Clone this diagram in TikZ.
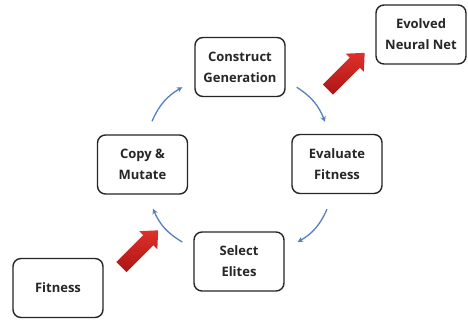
\documentclass[tikz,border=0pt]{standalone}
\usepackage{fontspec}
\setmainfont{Open Sans}
\usetikzlibrary{shapes.arrows,arrows.meta}
\definecolor{flowblue}{RGB}{88,128,190}
\definecolor{redlight}{RGB}{224,48,42}
\definecolor{reddark}{RGB}{170,22,22}
\tikzset{
  stage/.style={draw=black!85, line width=1.4pt, rounded corners=8pt, fill=white,
    minimum width=90pt, minimum height=59pt, align=center,
    font=\fontsize{13}{21}\selectfont\bfseries, text=black!85},
  flow/.style={draw=flowblue, line width=1.3pt, -{Stealth[length=5.5pt,width=5.5pt]}},
  bigarrow/.style={single arrow, minimum height=52pt, minimum width=25pt, inner sep=7pt,
    single arrow head extend=5.5pt, single arrow tip angle=85, rotate=45,
    top color=redlight, bottom color=reddark, draw=none},
}
\begin{document}
\begin{tikzpicture}[x=1pt,y=-1pt]
  \useasboundingbox[fill=white] (0,0) rectangle (468,322);

  % cycle stages
  \node[stage] (construct) at (240,67)    {Construct\\Generation};
  \node[stage] (evaluate)  at (337,164)   {Evaluate\\Fitness};
  \node[stage] (select)    at (239,261.5) {Select\\Elites};
  \node[stage] (copy)      at (142.5,164.5) {Copy \&\\Mutate};

  % input and output
  \node[stage] (fitness) at (58,288)   {Fitness};
  \node[stage] (evolved) at (421,34.5) {Evolved\\Neural Net};

  % clockwise loop
  \draw[flow] ([xshift=9.5pt,yshift=13pt]copy.north) to[bend left=18]
              ([xshift=-12pt,yshift=10pt]construct.south west);
  \draw[flow] ([xshift=11pt,yshift=10pt]construct.south east) to[bend left=18]
              ([xshift=-12pt,yshift=12pt]evaluate.north);
  \draw[flow] ([xshift=-10pt,yshift=-15pt]evaluate.south) to[bend left=18]
              ([xshift=13pt,yshift=19.5pt]select.east);
  \draw[flow] ([xshift=-11pt,yshift=19.5pt]select.west) to[bend left=18]
              ([xshift=10.5pt,yshift=-14pt]copy.south);

  % fitness in, network out
  \node[bigarrow] (feed) at (137,251.5) {};
  \node[bigarrow] (emit) at (343.5,74) {};
\end{tikzpicture}
\end{document}
